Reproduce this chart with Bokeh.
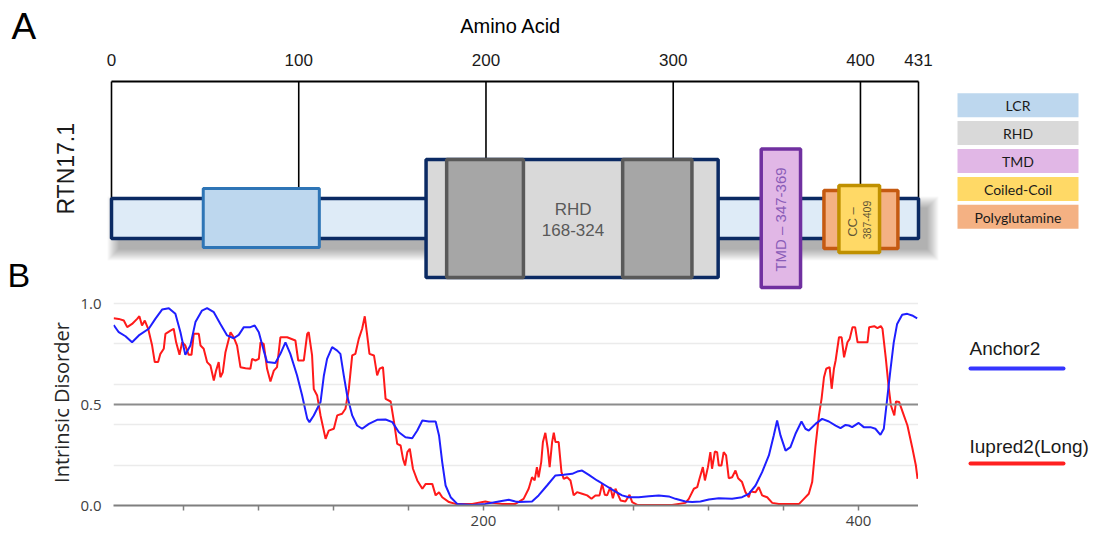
import numpy as np
from bokeh.plotting import figure
from bokeh.layouts import column, row
from bokeh.models import Range1d, FixedTicker, Span, PrintfTickFormatter
from bokeh.core.properties import value
from bokeh.embed import file_html
from bokeh.resources import INLINE

# ---------------- data ----------------
protein_length = 431
scale_ticks = [0, 100, 200, 300, 400, 431]
scale_labels = ["0", "100", "200", "300", "400", "431"]

lcr = (49, 111)
rhd = (168, 324)
rhd_core_starts = [179, 273]
rhd_core_ends = [220, 310]
tmd = (347, 368)
polyq = (380.5, 420)
cc = (388.5, 410.2)

legend_names = ["LCR", "RHD", "TMD", "Coiled-Coil", "Polyglutamine"]
legend_colors = ["#BDD7EE", "#D9D9D9", "#E1B7E6", "#FFD966", "#F4B183"]

anchor2_x = [2.8, 5.5, 9.1, 12.6, 16.2, 21.5, 25, 28.6, 32.2, 35.7, 38.4, 41, 43.7, 46.4, 49.9, 52.6, 56.2,
             59.7, 63.3, 66.8, 69.5, 72.2, 75.7, 78, 80.2, 82.8, 84.6, 89, 91.7, 94.4, 97, 100.6, 103.3, 106,
             107.2, 109.5, 111.3, 113.1, 114.9, 116.6, 119.3, 122, 123.7, 125.5, 127.3, 130, 132.6, 135.3,
             138.9, 143.3, 147.8, 151.4, 154.9, 158.4, 162, 164.7, 167.4, 170.9, 174.5, 176.3, 178, 179.8,
             182.5, 186, 194, 201, 208.2, 213.5, 217, 218.8, 225.9, 229.4, 233.9, 238.4, 242.8, 247.3, 250,
             252.6, 256.2, 260.6, 265.1, 269.5, 273.9, 277.5, 282.8, 288.2, 293.5, 298.8, 302.4, 307.7, 311.3,
             315.7, 320.2, 325.5, 332.6, 337.9, 341.5, 345.1, 348.6, 352.2, 354.8, 356.6, 358.4, 361.1, 363.7,
             366.4, 369.6, 371.7, 373.5, 377.1, 380.6, 384.2, 387.8, 390.4, 393.1, 394.8, 396.6, 400.1, 402.8,
             406.4, 409, 411.7, 413.5, 415.3, 417.1, 418.8, 420.6, 423.3, 426, 428.6, 431.3]
anchor2_y = [0.894, 0.858, 0.838, 0.808, 0.842, 0.875, 0.924, 0.970, 0.977, 0.949, 0.858, 0.746, 0.792, 0.908,
             0.965, 0.977, 0.957, 0.899, 0.842, 0.828, 0.845, 0.883, 0.883, 0.891, 0.858, 0.767, 0.710, 0.706,
             0.751, 0.808, 0.751, 0.644, 0.545, 0.430, 0.413, 0.446, 0.479, 0.512, 0.644, 0.726, 0.784, 0.767,
             0.751, 0.644, 0.545, 0.446, 0.396, 0.380, 0.404, 0.424, 0.426, 0.413, 0.363, 0.338, 0.333, 0.371,
             0.421, 0.416, 0.416, 0.347, 0.215, 0.099, 0.041, 0.008, 0.003, 0.008, 0.020, 0.028, 0.020, 0.017,
             0.020, 0.050, 0.099, 0.149, 0.152, 0.157, 0.168, 0.173, 0.152, 0.124, 0.099, 0.074, 0.050, 0.041,
             0.041, 0.046, 0.050, 0.045, 0.033, 0.020, 0.017, 0.020, 0.030, 0.036, 0.033, 0.041, 0.058, 0.099,
             0.165, 0.248, 0.347, 0.421, 0.347, 0.272, 0.289, 0.355, 0.416, 0.380, 0.371, 0.404, 0.429, 0.416,
             0.396, 0.383, 0.399, 0.396, 0.388, 0.409, 0.388, 0.388, 0.380, 0.350, 0.380, 0.528, 0.677, 0.808,
             0.899, 0.944, 0.949, 0.941, 0.927]

iupred2_x = [2.8, 5.5, 8.2, 10, 12.6, 15.3, 16.5, 17.9, 19.4, 21.2, 23.3, 24.7, 26.5, 27.7, 29.5, 30.4, 33.1,
             34.8, 36.1, 37.9, 39.3, 41, 42.8, 44.3, 45.5, 48.2, 49.1, 50.8, 52.6, 54.4, 56.2, 57.4, 58.8, 59.7,
             61, 62.4, 65.1, 66.8, 68.6, 70.4, 73.1, 75.7, 76.6, 78.4, 80.2, 81.1, 82.8, 84.6, 86.4, 88.2, 89.9,
             91.7, 95.3, 99.7, 101.2, 104.2, 106, 106.8, 108.6, 109.5, 111.3, 113.1, 115.8, 117.5, 120.2, 122,
             124.6, 126.4, 128.2, 130, 131.7, 133.5, 135.3, 136.7, 138, 139.2, 141.6, 143.3, 144.6, 146.4, 147.8,
             150.5, 152.3, 154, 155.8, 157.1, 158.2, 159.4, 160.7, 162.4, 164.7, 167.4, 169.2, 172.7, 174.5,
             176.3, 178, 181.6, 185.1, 194, 201, 204.6, 210, 217, 221.4, 224.1, 225.9, 227.3, 228.5, 229.4,
             230.8, 231.7, 233, 234.3, 235.3, 236.6, 237.5, 238.4, 240.1, 241.6, 242.8, 244.6, 246.4, 248.1,
             249.9, 252.6, 255.3, 257.6, 259.7, 261.9, 263.3, 264.7, 265.9, 267.7, 269, 270.4, 273.1, 275.7,
             277.9, 279.3, 282, 300.6, 307.7, 309.5, 312.2, 314, 315.2, 317, 318.1, 319.7, 321, 321.9, 323.4,
             324.6, 325.5, 326.9, 328.1, 329.4, 330.8, 332.6, 334.4, 335.8, 337.9, 339.7, 341.5, 342.4, 345.1,
             346.8, 348.6, 351.3, 354, 357.5, 368.2, 370.9, 373.5, 375.3, 377.1, 378.9, 380.3, 381.6, 382.8,
             384.6, 385.7, 386.9, 387.8, 389.6, 391, 392.3, 394.1, 395.3, 396.8, 398.2, 399.5, 402.1, 404.8,
             405.7, 408.4, 410.1, 411.9, 412.8, 414.6, 416, 417.3, 419.1, 420, 421.7, 423.9, 426.1, 428.8,
             430.6, 431.5]
iupred2_y = [0.927, 0.924, 0.916, 0.883, 0.899, 0.924, 0.937, 0.891, 0.916, 0.875, 0.792, 0.710, 0.710, 0.751,
             0.776, 0.850, 0.866, 0.875, 0.808, 0.746, 0.808, 0.792, 0.746, 0.746, 0.850, 0.850, 0.792, 0.776,
             0.710, 0.693, 0.619, 0.668, 0.710, 0.635, 0.660, 0.759, 0.858, 0.833, 0.792, 0.685, 0.680, 0.677,
             0.726, 0.718, 0.726, 0.808, 0.800, 0.677, 0.614, 0.668, 0.685, 0.833, 0.833, 0.817, 0.718, 0.718,
             0.850, 0.858, 0.743, 0.577, 0.545, 0.446, 0.330, 0.371, 0.380, 0.446, 0.454, 0.479, 0.577, 0.743,
             0.751, 0.825, 0.875, 0.937, 0.842, 0.751, 0.743, 0.644, 0.677, 0.685, 0.528, 0.515, 0.413, 0.305,
             0.297, 0.231, 0.198, 0.264, 0.281, 0.182, 0.124, 0.083, 0.107, 0.107, 0.050, 0.066, 0.041, 0.017,
             0.008, 0.008, 0.020, 0.013, 0.008, 0.008, 0.033, 0.083, 0.140, 0.124, 0.190, 0.140, 0.215, 0.314,
             0.360, 0.281, 0.190, 0.314, 0.360, 0.314, 0.314, 0.165, 0.132, 0.140, 0.124, 0.050, 0.066, 0.058,
             0.050, 0.033, 0.050, 0.050, 0.107, 0.053, 0.050, 0.091, 0.036, 0.083, 0.025, 0.020, 0.053, 0.017,
             0.003, 0.003, 0.013, 0.033, 0.083, 0.091, 0.132, 0.190, 0.124, 0.190, 0.264, 0.182, 0.267, 0.264,
             0.198, 0.198, 0.264, 0.248, 0.135, 0.140, 0.173, 0.135, 0.116, 0.066, 0.041, 0.069, 0.066, 0.091,
             0.050, 0.041, 0.013, 0.007, 0.007, 0.033, 0.058, 0.116, 0.297, 0.446, 0.528, 0.635, 0.677, 0.685,
             0.578, 0.677, 0.718, 0.833, 0.833, 0.734, 0.808, 0.825, 0.883, 0.883, 0.808, 0.808, 0.808, 0.883,
             0.888, 0.878, 0.888, 0.875, 0.726, 0.594, 0.495, 0.446, 0.515, 0.512, 0.454, 0.396, 0.281, 0.198,
             0.132]

bottom_ticks = [40, 80, 120, 160, 200, 240, 280, 320, 360, 400]
bottom_tick_labels = {t: (str(t) if t in (200, 400) else "") for t in bottom_ticks}

series_names = ["Anchor2", "Iupred2(Long)"]
series_colors = ["#3535ff", "#ff2020"]

# ---------------- layout constants ----------------
W = 1097
H_TOP = 294
H_BOT = 247
LEFT_PX = 111
S = 807 / protein_length          # px per residue in panel A


def px2aa(px):
    return (px - LEFT_PX) / S


ARIAL = value("Liberation Sans")

# ---------------- panel A ----------------
p1 = figure(width=W, height=H_TOP, x_range=Range1d(px2aa(0), px2aa(W)), y_range=Range1d(H_TOP, 0),
            output_backend="svg", toolbar_location=None, x_axis_location=None, y_axis_location=None,
            min_border=0)
p1.grid.visible = False
p1.outline_line_color = None
p1.background_fill_color = "white"

bar_top, bar_bot = 198, 238
# soft drop shadow of the main bar
dx, dy = 8, 10
for k in range(12):
    e = 12 - k
    p1.quad(left=[0 + (dx - e) / S], right=[protein_length + (dx + e) / S],
            top=[bar_top + dy - e], bottom=[bar_bot + dy + e],
            fill_color="black", fill_alpha=0.028, line_color=None)

# scale bracket
p1.segment(x0=[0], y0=[81], x1=[protein_length], y1=[81], line_color="black", line_width=2)
tick_ends = [bar_top, 188, 159, 159, 185, bar_top]
p1.segment(x0=scale_ticks, y0=[81] * len(scale_ticks), x1=scale_ticks, y1=tick_ends,
           line_color="black", line_width=1.6)
p1.text(x=scale_ticks, y=[59.5] * len(scale_ticks), text=scale_labels, text_font=ARIAL,
        text_font_size="17px", text_align="center", text_baseline="middle", text_color="#1a1a1a")

# protein bar
p1.quad(left=[0], right=[protein_length], top=[bar_top], bottom=[bar_bot],
        fill_color="#DEEBF7", line_color="#0B2A63", line_width=3.5)
# LCR
p1.quad(left=[lcr[0]], right=[lcr[1]], top=[188], bottom=[247],
        fill_color="#BDD7EE", line_color="#2E75B6", line_width=3)
# RHD
p1.quad(left=[rhd[0]], right=[rhd[1]], top=[159], bottom=[277],
        fill_color="#D9D9D9", line_color="#0B2A63", line_width=3.5)
p1.quad(left=rhd_core_starts, right=rhd_core_ends, top=[159, 159], bottom=[277, 277],
        fill_color="#A6A6A6", line_color="#595959", line_width=3.5)
rhd_mid = (rhd_core_ends[0] + rhd_core_starts[1]) / 2
p1.text(x=[rhd_mid, rhd_mid], y=[208.5, 229.5], text=["RHD", "%d-%d" % rhd], text_font=ARIAL,
        text_font_size="17px", text_align="center", text_baseline="middle", text_color="#595959")
# TMD
p1.quad(left=[tmd[0]], right=[tmd[1]], top=[148.5], bottom=[287],
        fill_color="#E1B7E6", line_color="#7030A0", line_width=3.5)
p1.text(x=[(tmd[0] + tmd[1]) / 2], y=[219], text=["TMD \u2013 347-369"], text_font=ARIAL,
        text_font_size="15px", text_align="center", text_baseline="middle", text_color="#8A5CB8",
        angle=np.pi / 2)
# Polyglutamine
p1.quad(left=[polyq[0]], right=[polyq[1]], top=[190], bottom=[248],
        fill_color="#F4B183", line_color="#C55A11", line_width=3.5)
# Coiled coil
p1.quad(left=[cc[0]], right=[cc[1]], top=[185], bottom=[252],
        fill_color="#FFD966", line_color="#BF9000", line_width=3.5)
p1.text(x=[px2aa(851.5)], y=[221.5], text=["CC \u2013"], text_font=ARIAL, text_font_size="13px",
        text_align="center", text_baseline="middle", text_color="#5f5535", angle=np.pi / 2)
p1.text(x=[px2aa(866.5)], y=[219.5], text=["387-409"], text_font=ARIAL, text_font_size="10.5px",
        text_align="center", text_baseline="middle", text_color="#5f5535", angle=np.pi / 2)

# titles and letters
p1.text(x=[px2aa(11)], y=[26], text=["A"], text_font=ARIAL, text_font_size="37px",
        text_align="left", text_baseline="middle", text_color="black")
p1.text(x=[px2aa(7)], y=[274], text=["B"], text_font=ARIAL, text_font_size="34px",
        text_align="left", text_baseline="middle", text_color="black")
p1.text(x=[px2aa(513)], y=[25.5], text=["Amino  Acid"], text_font=ARIAL, text_font_size="20px",
        text_align="center", text_baseline="middle", text_color="black")
p1.text(x=[px2aa(65)], y=[168.3], text=["RTN17.1"], text_font=ARIAL, text_font_size="23px",
        text_align="center", text_baseline="middle", text_color="#1a1a1a", angle=np.pi / 2)

# domain legend
lg_top = [92.7 + i * 27.9 for i in range(len(legend_names))]
lg_bot = [t + 24 for t in lg_top]
p1.quad(left=[px2aa(957)] * 5, right=[px2aa(1078)] * 5, top=lg_top, bottom=lg_bot,
        fill_color=legend_colors, line_color=None)
p1.text(x=[px2aa(1017.5)] * 5, y=[(a + b) / 2 + 0.5 for a, b in zip(lg_top, lg_bot)], text=legend_names,
        text_font=value("Lato"), text_font_size="14px", text_align="center", text_baseline="middle",
        text_color="#1a1a1a")

# ---------------- panel B ----------------
p2 = figure(width=918, height=H_BOT, x_range=Range1d(2.7, 432), y_range=Range1d(0, 1.02),
            output_backend="svg", toolbar_location=None,
            min_border_left=113, min_border_right=0, min_border_top=5, min_border_bottom=36)
p2.outline_line_color = None
p2.xgrid.visible = False
p2.ygrid.ticker = FixedTicker(ticks=[0.2, 0.4, 0.6, 0.8, 1.0])
p2.ygrid.grid_line_color = "#ebebeb"
p2.ygrid.grid_line_width = 1.5
p2.add_layout(Span(location=0.5, dimension="width", line_color="#8c8c8c", line_width=2))

p2.line(iupred2_x, iupred2_y, line_color="#ff1a1a", line_width=2)
p2.line(anchor2_x, anchor2_y, line_color="#1f1fff", line_width=2)

xa = p2.xaxis[0]
xa.ticker = FixedTicker(ticks=bottom_ticks)
xa.major_label_overrides = bottom_tick_labels
xa.axis_line_color = "#7f7f7f"
xa.axis_line_width = 2
xa.major_tick_line_color = "#7f7f7f"
xa.major_tick_line_width = 1.5
xa.major_tick_in = 0
xa.major_tick_out = 5
xa.minor_tick_line_color = None
xa.major_label_text_font = "Open Sans"
xa.major_label_text_font_size = "15px"
xa.major_label_text_color = "#404040"
xa.major_label_standoff = 5

ya = p2.yaxis[0]
ya.ticker = FixedTicker(ticks=[0.0, 0.5, 1.0])
ya.formatter = PrintfTickFormatter(format="%.1f")
ya.axis_line_color = None
ya.major_tick_line_color = None
ya.minor_tick_line_color = None
ya.major_label_text_font = "Open Sans"
ya.major_label_text_font_size = "15px"
ya.major_label_text_color = "#404040"
ya.major_label_standoff = 6
ya.axis_label = "Intrinsic Disorder"
ya.axis_label_text_font = "Open Sans"
ya.axis_label_text_font_size = "20px"
ya.axis_label_text_font_style = "normal"
ya.axis_label_text_color = "#262626"
ya.axis_label_standoff = 2

# series legend (its frame is aligned with panel B's frame: page px 299..505)
p3 = figure(width=W - 918, height=H_BOT, x_range=Range1d(918, W), y_range=Range1d(505, 299),
            output_backend="svg", toolbar_location=None, x_axis_location=None, y_axis_location=None,
            min_border=0)
p3.grid.visible = False
p3.outline_line_color = None
p3.text(x=[969, 969], y=[348, 446], text=series_names, text_font=ARIAL, text_font_size="19px",
        text_align="left", text_baseline="middle", text_color="#1a1a1a")
p3.segment(x0=[970, 970], y0=[368, 463], x1=[1063, 1063], y1=[368, 463], line_color=series_colors,
           line_width=4, line_cap="round")

layout = column(p1, row(p2, p3))
open("out.html", "w").write(file_html(layout, INLINE))
